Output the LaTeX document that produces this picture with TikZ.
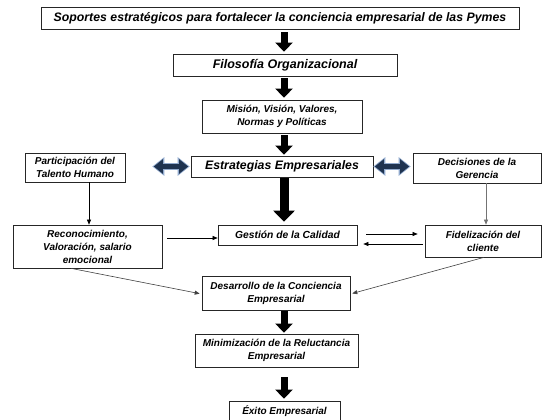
\documentclass[tikz,border=0pt]{standalone}
\usepackage{fontspec}
\setmainfont{Liberation Sans}
\usetikzlibrary{arrows.meta,calc}
\definecolor{navyarr}{HTML}{1F3350}
\definecolor{lightarr}{HTML}{8FA8CC}
\tikzset{
  box/.style={draw=black!85, line width=0.7pt, align=center, inner sep=0pt,
    font=\bfseries\itshape\fontsize{10}{13}\selectfont},
  blockarrow/.style={line width=7pt, -{Triangle[width=17pt,length=9pt]}},
  bigblockarrow/.style={line width=9pt, -{Triangle[width=21pt,length=11pt]}},
  thinarrow/.style={line width=0.6pt, -{Triangle[width=4pt,length=5pt]}},
  dblouter/.style={line width=7pt, lightarr, {Triangle[width=18pt,length=12pt]}-{Triangle[width=18pt,length=12pt]}},
  dblinner/.style={line width=5pt, navyarr, {Triangle[width=14pt,length=9pt]}-{Triangle[width=14pt,length=9pt]}}
}
\begin{document}
\begin{tikzpicture}[x=1pt,y=-1pt]
\useasboundingbox (0,0) rectangle (542,420);
% boxes
\node[box, minimum width=478pt, minimum height=22pt, font=\bfseries\itshape\fontsize{12.3}{14}\selectfont] (top) at (280,18)
  {Soportes estratégicos para fortalecer  la conciencia  empresarial de las Pymes};
\node[box, minimum width=224pt, minimum height=22pt, font=\bfseries\itshape\fontsize{12.5}{14}\selectfont] (filo) at (285,65)
  {Filosofía Organizacional};
\node[box, minimum width=160pt, minimum height=33pt] (mision) at (282,116.5)
  {Misión, Visión, Valores,\\Normas y Políticas};
\node[box, minimum width=182pt, minimum height=21pt, font=\bfseries\itshape\fontsize{12.3}{14}\selectfont] (estr) at (282,166.5)
  {Estrategias Empresariales};
\node[box, minimum width=100pt, minimum height=29pt] (part) at (75,167.5)
  {Participación del\\Talento Humano};
\node[box, minimum width=128pt, minimum height=30pt] (deci) at (477,168)
  {Decisiones  de la\\Gerencia};
\node[box, minimum width=139pt, minimum height=20pt, font=\bfseries\itshape\fontsize{10.3}{12}\selectfont] (gest) at (287.5,235)
  {Gestión  de la Calidad};
\node[box, minimum width=149pt, minimum height=43pt] (recon) at (87.5,246.5)
  {Reconocimiento,\\Valoración, salario\\emocional};
\node[box, minimum width=116pt, minimum height=32pt] (fide) at (483,241)
  {Fidelización del\\cliente};
\node[box, minimum width=148pt, minimum height=34pt] (desa) at (276,293)
  {Desarrollo  de la Conciencia\\Empresarial};
\node[box, minimum width=163pt, minimum height=33pt] (mini) at (276.5,350.5)
  {Minimización de la Reluctancia\\Empresarial};
\node[box, minimum width=111pt, minimum height=20pt] (exito) at (284.5,411)
  {Éxito Empresarial};
% guide coordinates
\coordinate (ax) at (284,0);
\coordinate (lx) at (89,0);
\coordinate (rx) at (486,0);
% thick arrows
\draw[blockarrow, shorten <=3pt, shorten >=2pt] (top.south -| ax) -- (filo.north -| ax);
\draw[blockarrow, shorten <=2pt, shorten >=2pt] (filo.south -| ax) -- (mision.north -| ax);
\draw[blockarrow, shorten <=2pt, shorten >=1pt] (mision.south -| ax) -- (estr.north -| ax);
\draw[bigblockarrow, shorten <=1pt, shorten >=3pt] (estr.south -| ax) -- (gest.north -| ax);
\draw[blockarrow, shorten <=1pt, shorten >=1pt] (desa.south -| ax) -- (mini.north -| ax);
\draw[blockarrow, shorten <=10pt, shorten >=2pt] (mini.south -| ax) -- (exito.north -| ax);
% double arrows
\draw[dblouter, shorten <=27pt, shorten >=1pt] (part.east |- estr) -- (estr.west);
\draw[dblinner, shorten <=28.5pt, shorten >=2.5pt] (part.east |- estr) -- (estr.west);
\draw[dblouter, shorten <=0pt, shorten >=2pt] (estr.east) -- (deci.west |- estr);
\draw[dblinner, shorten <=1.5pt, shorten >=3.5pt] (estr.east) -- (deci.west |- estr);
% thin arrows
\draw[thinarrow] (part.south -| lx) -- (recon.north -| lx);
\draw[thinarrow, draw=black!55] (deci.south -| rx) -- (fide.north -| rx);
\draw[thinarrow, shorten <=5pt] ($(recon.east)+(0,-8.5)$) -- ($(gest.west)+(0,3)$);
\draw[thinarrow, shorten <=9pt, shorten >=7pt] ($(gest.east)+(0,-1)$) -- ($(fide.west)+(0,-7)$);
\draw[thinarrow, shorten <=2pt, shorten >=6pt] ($(fide.west)+(0,3)$) -- ($(gest.east)+(0,9)$);
\draw[thinarrow, draw=black!75, shorten >=2pt] ($(recon.south)+(-16.5,0)$) -- ($(desa.west)+(0,1)$);
\draw[thinarrow, draw=black!75, shorten >=2pt] ($(fide.south)+(1,0)$) -- ($(desa.east)+(0,1)$);
\end{tikzpicture}
\end{document}
